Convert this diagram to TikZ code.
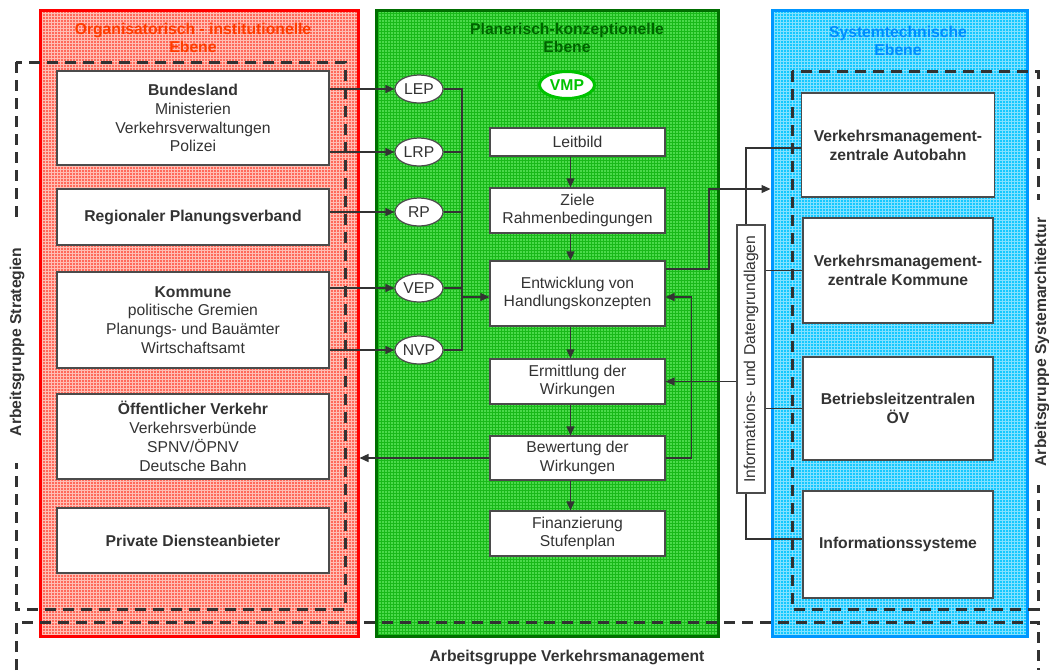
\documentclass[tikz,border=0pt]{standalone}
\usepackage{fontspec}
\setmainfont{Liberation Sans}
\usetikzlibrary{arrows.meta,shapes.geometric,patterns}

\definecolor{orgborder}{RGB}{255,0,0}
\definecolor{orgfill}{RGB}{255,105,90}
\definecolor{orggrid}{RGB}{255,190,180}
\definecolor{orghead}{RGB}{255,60,0}
\definecolor{planborder}{RGB}{0,110,0}
\definecolor{planfill}{RGB}{75,218,75}
\definecolor{plangrid}{RGB}{25,185,25}
\definecolor{planhead}{RGB}{0,100,0}
\definecolor{sysborder}{RGB}{0,150,255}
\definecolor{sysfill}{RGB}{20,200,255}
\definecolor{sysgrid}{RGB}{130,225,255}
\definecolor{syshead}{RGB}{0,140,255}
\definecolor{vmpgreen}{RGB}{0,195,0}
\definecolor{txtgray}{RGB}{51,51,51}
\definecolor{boxgray}{RGB}{75,75,75}
\definecolor{dashgray}{RGB}{50,50,50}

\begin{document}
\begin{tikzpicture}[x=1pt, y=-1pt,
    every node/.style={font=\fontsize{15.7}{18.8}\selectfont, text=txtgray},
    levelcol/.style={line width=3pt, inner sep=0pt, minimum height=626pt},
    heading/.style={font=\fontsize{15.7}{17.5}\selectfont\bfseries, align=center},
    levelbox/.style={draw=boxgray, line width=1.2pt, fill=white, inner sep=0pt, align=center},
    boldbox/.style={levelbox, font=\fontsize{15.7}{18.8}\selectfont\bfseries},
    planellipse/.style={ellipse, draw=boxgray, line width=1.2pt, fill=white,
      minimum width=48pt, minimum height=28pt, inner sep=0pt},
    agroup/.style={draw=dashgray, line width=3pt, dash pattern=on 11pt off 7pt},
    grouplabel/.style={fill=white, inner sep=0pt, font=\fontsize{15.7}{18.8}\selectfont\bfseries},
    link/.style={draw=txtgray, line width=1.3pt},
    flow/.style={link, -{Triangle[length=9pt,width=8pt]}}
  ]
  \useasboundingbox (0,0) rectangle (1049,670);

  % Draw the three levels
  \node[levelcol, draw=orgborder, preaction={fill=orgfill}, pattern=grid, pattern color=orggrid,
    minimum width=318pt] (orgcol) at (199,323) {};
  \node[levelcol, draw=planborder, preaction={fill=planfill}, pattern=grid, pattern color=plangrid,
    minimum width=342pt] (plancol) at (547,323) {};
  \node[levelcol, draw=sysborder, preaction={fill=sysfill}, pattern=grid, pattern color=sysgrid,
    minimum width=255pt] (syscol) at (899.5,323) {};

  \node[heading, text=orghead] (orghead) at (193,38) {Organisatorisch - institutionelle\\Ebene};
  \node[heading, text=planhead] (planhead) at (567,38) {Planerisch-konzeptionelle\\Ebene};
  \node[heading, text=syshead] (syshead) at (898,41) {Systemtechnische\\Ebene};

  % Draw the working groups
  \draw[agroup] (16,62) rectangle (345,609);
  \draw[agroup] (792,71) rectangle (1038,609);
  \draw[agroup] (16,670) -- (16,622) -- (1038,622) -- (1038,670);

  \node[grouplabel, rotate=90, minimum width=241pt] (strat) at (17,342) {Arbeitsgruppe Strategien};
  \node[grouplabel, rotate=90, minimum width=285pt] (sysarch) at (1042,342) {Arbeitsgruppe Systemarchitektur};
  \node[grouplabel, fill=none] (vm) at (567,657) {Arbeitsgruppe Verkehrsmanagement};

  % Organisational level
  \node[levelbox, minimum width=272pt, minimum height=94pt] (land) at (193,118)
    {\textbf{Bundesland}\\Ministerien\\Verkehrsverwaltungen\\Polizei};
  \node[boldbox, minimum width=272pt, minimum height=56pt] (region) at (193,217)
    {Regionaler Planungsverband};
  \node[levelbox, minimum width=272pt, minimum height=96pt] (kommune) at (193,320)
    {\textbf{Kommune}\\politische Gremien\\Planungs- und Bauämter\\Wirtschaftsamt};
  \node[levelbox, minimum width=272pt, minimum height=85pt] (oev) at (193,436.5)
    {\textbf{Öffentlicher Verkehr}\\Verkehrsverbünde\\SPNV/ÖPNV\\Deutsche Bahn};
  \node[boldbox, minimum width=272pt, minimum height=65pt] (private) at (193,540.5)
    {Private Diensteanbieter};

  % Planning level
  \node[planellipse] (lep) at (419,89) {LEP};
  \node[planellipse] (lrp) at (419,152) {LRP};
  \node[planellipse] (rp) at (419,212) {RP};
  \node[planellipse] (vep) at (419,288) {VEP};
  \node[planellipse] (nvp) at (419,350) {NVP};

  \node[ellipse, draw=vmpgreen, line width=3pt, fill=white, minimum width=55pt, minimum height=27pt,
    inner sep=0pt, text=vmpgreen, font=\fontsize{15.7}{18.8}\selectfont\bfseries] (vmp) at (567,85) {VMP};

  \node[levelbox, minimum width=175pt, minimum height=28pt] (leitbild) at (577.5,142) {Leitbild};
  \node[levelbox, minimum width=175pt, minimum height=45pt] (ziele) at (577.5,210.5)
    {Ziele\\Rahmenbedingungen};
  \node[levelbox, minimum width=175pt, minimum height=65pt] (entw) at (577.5,293.5)
    {Entwicklung von\\Handlungskonzepten};
  \node[levelbox, minimum width=175pt, minimum height=45pt] (ermitt) at (577.5,381.5)
    {Ermittlung der\\Wirkungen};
  \node[levelbox, minimum width=175pt, minimum height=44pt] (bewert) at (577.5,458)
    {Bewertung der\\Wirkungen};
  \node[levelbox, minimum width=175pt, minimum height=45pt] (finanz) at (577.5,533.5)
    {Finanzierung\\Stufenplan};

  % System level
  \node[boldbox, minimum width=193pt, minimum height=104pt] (vmzab) at (898,145)
    {Verkehrsmanagement-\\zentrale Autobahn};
  \node[boldbox, minimum width=190pt, minimum height=105pt] (vmzko) at (898,270.5)
    {Verkehrsmanagement-\\zentrale Kommune};
  \node[boldbox, minimum width=190pt, minimum height=103pt] (blz) at (898,408.5)
    {Betriebsleitzentralen\\ÖV};
  \node[boldbox, minimum width=190pt, minimum height=107pt] (infsys) at (898,544.5)
    {Informationssysteme};

  \node[levelbox, rotate=90, minimum width=268pt, minimum height=28pt] (daten) at (751,359)
    {Informations- und Datengrundlagen};

  % Connectors from the institutions to the plans
  \draw[flow] (land.east |- lep.west) -- (lep.west);
  \draw[flow] (land.east |- lrp.west) -- (lrp.west);
  \draw[flow] (region.east |- rp.west) -- (rp.west);
  \draw[flow] (kommune.east |- vep.west) -- (vep.west);
  \draw[flow] (kommune.east |- nvp.west) -- (nvp.west);

  % Plans collected into the concepts
  \coordinate (bustop) at (462,89);
  \coordinate (busbot) at (462,350);
  \draw[link] (lep.east) -- (bustop) -- (busbot) -- (nvp.east);
  \draw[link] (lrp.east) -- (lrp.east -| bustop);
  \draw[link] (rp.east) -- (rp.east -| bustop);
  \draw[link] (vep.east) -- (vep.east -| bustop);
  \draw[flow] ([yshift=-3.5pt]entw.west -| bustop) -- ([yshift=-3.5pt]entw.west);

  % Planning steps
  \foreach \a/\b in {leitbild/ziele, ziele/entw, entw/ermitt, ermitt/bewert, bewert/finanz}
    \draw[flow] ([xshift=-7pt]\a.south) -- ([xshift=-7pt]\b.north);

  \draw[flow] (bewert.west) -- (bewert.west -| orgcol.east);
  \draw[flow] (bewert.east) -- ++(26,0) |- ([yshift=-3.5pt]entw.east);
  \coordinate (turn) at (709,189);
  \draw[flow] ([yshift=24.5pt]entw.east) -| (turn) -- (turn -| syscol.west);
  \draw[flow] (daten.north |- ermitt.east) -- (ermitt.east);

  % Data basis to the control centres
  \draw[link] ([xshift=-5pt]daten.east) |- ([yshift=-3pt]vmzab.west);
  \draw[link] (daten.south |- vmzko.west) -- (vmzko.west);
  \draw[link] (daten.south |- blz.west) -- (blz.west);
  \draw[link] ([xshift=-5pt]daten.west) |- ([yshift=5.5pt]infsys.west);
\end{tikzpicture}
\end{document}
